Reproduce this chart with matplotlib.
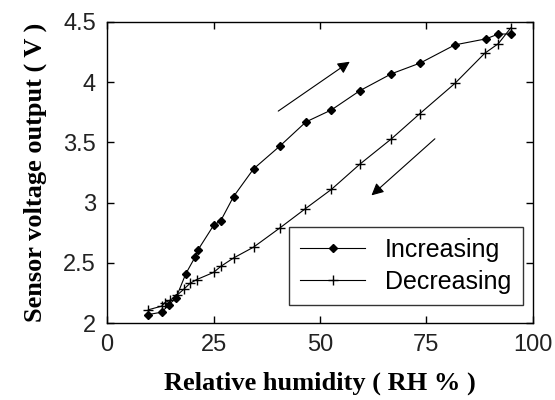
import matplotlib
matplotlib.use("Agg")
import matplotlib.pyplot as plt

# Data
rh_inc = [9.7, 12.8, 14.5, 16.2, 18.5, 20.7, 21.4, 25.0, 26.7, 29.7, 34.4, 40.6,
          46.7, 52.7, 59.4, 66.8, 73.6, 81.7, 89.0, 91.9, 94.8]
v_inc = [2.07, 2.09, 2.15, 2.21, 2.41, 2.55, 2.61, 2.81, 2.85, 3.05, 3.28, 3.47,
         3.67, 3.77, 3.93, 4.07, 4.16, 4.31, 4.36, 4.40, 4.40]

rh_dec = [94.8, 91.9, 88.7, 81.7, 73.5, 66.8, 59.4, 52.7, 46.6, 40.6, 34.4, 29.7,
          26.7, 25.0, 21.0, 19.5, 18.0, 16.4, 14.8, 13.6, 12.8, 9.7]
v_dec = [4.45, 4.32, 4.24, 3.99, 3.74, 3.53, 3.32, 3.11, 2.95, 2.79, 2.63, 2.54,
         2.47, 2.42, 2.36, 2.33, 2.28, 2.23, 2.19, 2.17, 2.14, 2.11]

x_ticks = [0, 25, 50, 75, 100]
x_ticklabels = ["0", "25", "50", "75", "100"]
y_ticks = [2, 2.5, 3, 3.5, 4, 4.5]
y_ticklabels = ["2", "2.5", "3", "3.5", "4", "4.5"]

# Direction arrows (tail -> head)
arrow_up = [(40.2, 3.76), (57.0, 4.17)]
arrow_down = [(77.0, 3.53), (62.1, 3.06)]

fig = plt.figure(figsize=(5.55, 4.0), dpi=100)
ax = fig.add_axes([0.193, 0.1925, 0.767, 0.7525])

ax.plot(rh_inc, v_inc, color="black", lw=0.8, marker="D", markersize=4,
        label="Increasing")
ax.plot(rh_dec, v_dec, color="black", lw=0.8, marker="+", markersize=7,
        markeredgewidth=1.0, label="Decreasing")

for (t, h) in (arrow_up, arrow_down):
    ax.annotate("", xy=h, xytext=t,
                arrowprops=dict(arrowstyle="-|>", color="black", lw=0.8,
                                mutation_scale=18, shrinkA=0, shrinkB=0))

ax.set_xlim(0, 100)
ax.set_ylim(2, 4.5)
ax.set_xticks(x_ticks)
ax.set_xticklabels(x_ticklabels)
ax.set_yticks(y_ticks)
ax.set_yticklabels(y_ticklabels)

for lab in ax.get_xticklabels() + ax.get_yticklabels():
    lab.set_fontfamily("Liberation Sans")
    lab.set_fontsize(17)
    lab.set_color("#222222")

ax.tick_params(direction="in", length=5, width=1, top=True, right=True, pad=8)
for sp in ax.spines.values():
    sp.set_linewidth(1.0)

labfont = dict(family="Liberation Serif", weight="bold", size=19)
ax.set_xlabel("Relative humidity ( RH % )", fontdict=labfont, labelpad=11)
ax.set_ylabel("Sensor voltage output ( V )", fontdict=labfont, labelpad=12)

leg = ax.legend(loc="lower right", bbox_to_anchor=(0.976, 0.06),
                prop=dict(family="Liberation Sans", size=18),
                frameon=True, fancybox=False, edgecolor="black",
                handlelength=2.6, borderpad=0.45, labelspacing=0.3,
                handletextpad=0.8, borderaxespad=0)
leg.get_frame().set_linewidth(1.0)

fig.savefig("out.png", dpi=100)
